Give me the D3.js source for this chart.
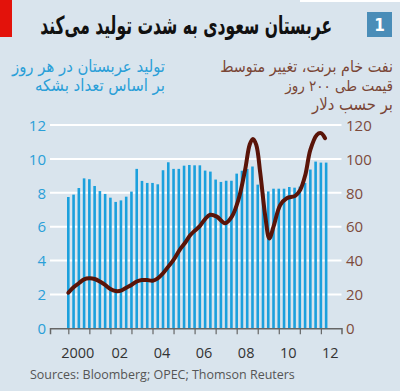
<!DOCTYPE html>
<html>
<head>
<meta charset="utf-8">
<script src="https://cdn.jsdelivr.net/npm/d3@7"></script>
<style>
  html, body { margin: 0; padding: 0; background: #d9e4ed; }
  svg { display: block; }
</style>
</head>
<body>
<svg id="chart" width="400" height="391"></svg>
<script>
// ---------- DATA ----------
const title = "عربستان سعودی به شدت تولید می‌کند";
const leftLabelLines = ["تولید عربستان در هر روز", "بر اساس تعداد بشکه"];
const rightLabelLines = ["نفت خام برنت، تغییر متوسط", "قیمت طی ۲۰۰ روز", "بر حسب دلار"];
const sourceText = "Sources: Bloomberg; OPEC; Thomson Reuters";
const xTickLabels = ["2000", "02", "04", "06", "08", "10", "12"];
const xTickLabelYears = [2000, 2002, 2004, 2006, 2008, 2010, 2012];
const leftTicks = [0, 2, 4, 6, 8, 10, 12];
const rightTicks = [0, 20, 40, 60, 80, 100, 120];

// Saudi production, million barrels/day, quarterly from 2000 Q1 to 2012 Q2
const productionStartYear = 2000;
const production = [
  7.75, 7.89, 8.28, 8.85,
  8.80, 8.40, 8.10, 7.93,
  7.71, 7.46, 7.55, 7.77,
  8.07, 9.41, 8.70, 8.58,
  8.58, 8.50, 9.33, 9.80,
  9.41, 9.41, 9.60, 9.64,
  9.62, 9.62, 9.31, 9.25,
  8.78, 8.64, 8.71, 8.71,
  9.13, 9.30, 9.40, 9.55,
  8.48, 8.00, 8.08, 8.24,
  8.24, 8.24, 8.34, 8.30,
  8.36, 8.58, 9.37, 9.84,
  9.78, 9.78
];

// Brent crude, 200-day moving average, $
const priceDates = [
  2000.00, 2000.25, 2000.50, 2000.75, 2001.00, 2001.25, 2001.50, 2001.75,
  2002.00, 2002.25, 2002.50, 2002.75, 2003.00, 2003.25, 2003.50, 2003.75,
  2004.00, 2004.25, 2004.50, 2004.75, 2005.00, 2005.30, 2005.55, 2005.80,
  2006.00, 2006.26, 2006.50, 2006.74, 2007.06, 2007.45, 2007.77, 2008.08,
  2008.40, 2008.62, 2008.77, 2008.93, 2009.12, 2009.36, 2009.55, 2009.75,
  2010.07, 2010.38, 2010.78, 2011.02, 2011.26, 2011.50, 2011.81, 2012.00,
  2012.20
];
const priceValues = [
  21.0, 24.2, 26.6, 28.9, 29.5, 29.1, 27.6, 25.6,
  23.2, 22.0, 22.2, 24.0, 25.6, 27.6, 28.5, 28.5,
  28.1, 29.5, 32.5, 36.4, 40.4, 46.5, 50.5, 55.1,
  57.5, 60.5, 64.5, 67.0, 65.9, 62.0, 65.9, 75.8,
  93.5, 108.5, 111.8, 108.3, 91.6, 66.0, 53.0, 60.0,
  72.8, 76.8, 78.2, 81.7, 90.5, 105.3, 114.2, 115.2,
  112.2
];

// ---------- CHART ----------
const svg = d3.select("#chart");
const bg = "#d9e4ed";
const blue = "#1ba0dd";
const brown = "#7d4b3c";
const lineColor = "#5a1408";
const faFont = "DejaVu Sans Condensed, DejaVu Sans, sans-serif";

svg.append("rect").attr("width", 400).attr("height", 391).attr("fill", bg);
svg.append("rect").attr("x", 300).attr("y", 0).attr("width", 100).attr("height", 2).attr("fill", "#ffffff");

// red tab
svg.append("rect").attr("x", 0).attr("y", 0).attr("width", 12).attr("height", 37).attr("fill", "#e3120b");

// number box
svg.append("rect").attr("x", 367).attr("y", 12).attr("width", 25).attr("height", 25).attr("fill", "#4a8db8");
svg.append("text").attr("x", 379.5).attr("y", 31).attr("text-anchor", "middle")
  .attr("font-family", "DejaVu Sans Condensed, DejaVu Sans, sans-serif").attr("font-weight", "bold").attr("font-size", 17)
  .attr("fill", "#ffffff").text("1");

function fit(node, target, maxSize) {
  const w = node.node().getComputedTextLength();
  const fs = parseFloat(node.attr("font-size"));
  if (w > 0) node.attr("font-size", Math.min(maxSize || 99, fs * target / w));
}

// title (right-aligned at x=332), taller glyphs squeezed horizontally to fit
const tg = svg.append("g").attr("transform", "translate(332,34)");
const t = tg.append("text").attr("x", 0).attr("y", 0)
  .attr("direction", "rtl").attr("text-anchor", "start")
  .attr("font-family", faFont).attr("font-weight", "bold").attr("font-size", 25)
  .attr("fill", "#111").text(title);
{
  const w = t.node().getComputedTextLength();
  if (w > 0) tg.attr("transform", `translate(332,34) scale(${292 / w},1)`);
}

// subtitle left (blue)
const leftWidths = [153, 130];
leftLabelLines.forEach((s, i) => {
  const n = svg.append("text").attr("x", 165).attr("y", 72 + i * 19)
    .attr("direction", "rtl").attr("text-anchor", "start")
    .attr("font-family", faFont).attr("font-size", 15)
    .attr("fill", "#2a9fd8").text(s);
  fit(n, leftWidths[i], 17);
});
// subtitle right (brown)
const rightWidths = [173, 108, 81];
rightLabelLines.forEach((s, i) => {
  const n = svg.append("text").attr("x", 393).attr("y", 72 + i * 19)
    .attr("direction", "rtl").attr("text-anchor", "start")
    .attr("font-family", faFont).attr("font-size", 15)
    .attr("fill", "#7a4636").text(s);
  fit(n, rightWidths[i], 17);
});

// scales
const x = d3.scaleLinear().domain([1999.13, 2012.98]).range([50, 341.5]);
const yL = d3.scaleLinear().domain([0, 12]).range([328.3, 125]);
const yR = d3.scaleLinear().domain([0, 120]).range([328.3, 125]);

// gridlines
svg.append("g").selectAll("line").data(leftTicks.filter(d => d > 0)).join("line")
  .attr("x1", 50).attr("x2", 341.5)
  .attr("y1", d => yL(d)).attr("y2", d => yL(d))
  .attr("stroke", "#ffffff").attr("stroke-width", 2);

// bars
const barData = production.map((v, i) => ({ t: productionStartYear + i / 4, v }));
svg.append("g").selectAll("rect").data(barData).join("rect")
  .attr("x", d => x(d.t) - 1.3)
  .attr("width", 2.6)
  .attr("y", d => yL(d.v))
  .attr("height", d => yL(0) - yL(d.v))
  .attr("fill", blue);

// x axis
const xAxis = d3.axisBottom(x)
  .tickValues(d3.range(2000, 2013))
  .tickSize(6)
  .tickFormat("");
const gx = svg.append("g").attr("transform", `translate(0,${yL(0)})`).call(xAxis);
gx.select(".domain").attr("stroke", "#666").attr("stroke-width", 1.5);
gx.selectAll(".tick line").attr("stroke", "#666").attr("stroke-width", 1.2);

// x labels (centered within each labelled year)
svg.append("g").selectAll("text").data(xTickLabelYears).join("text")
  .attr("x", (d, i) => x(d + 0.45))
  .attr("y", 358)
  .attr("text-anchor", "middle")
  .attr("font-family", "Open Sans, sans-serif").attr("font-size", 14.5)
  .attr("fill", "#333")
  .text((d, i) => xTickLabels[i]);

// left axis labels
const gl = svg.append("g").attr("transform", "translate(46,0)")
  .call(d3.axisLeft(yL).tickValues(leftTicks).tickSize(0).tickPadding(0));
gl.select(".domain").remove();
gl.selectAll("text").attr("font-family", "Open Sans, sans-serif").attr("font-size", 15)
  .attr("fill", "#2a9fd8").attr("dy", "0.35em");

// right axis labels
const gr = svg.append("g").attr("transform", "translate(346,0)")
  .call(d3.axisRight(yR).tickValues(rightTicks).tickSize(0).tickPadding(0));
gr.select(".domain").remove();
gr.selectAll("text").attr("font-family", "Open Sans, sans-serif").attr("font-size", 15)
  .attr("fill", brown).attr("dy", "0.35em");

// price line
const lineData = priceDates.map((d, i) => ({ t: d, v: priceValues[i] }));
svg.append("path").datum(lineData)
  .attr("fill", "none")
  .attr("stroke", lineColor)
  .attr("stroke-width", 4)
  .attr("stroke-linecap", "round")
  .attr("stroke-linejoin", "round")
  .attr("d", d3.line().x(d => x(d.t)).y(d => yR(d.v)).curve(d3.curveCatmullRom.alpha(0.5)));

// source
const src = svg.append("text").attr("x", 30).attr("y", 379)
  .attr("font-family", "Open Sans, sans-serif").attr("font-size", 13)
  .attr("fill", "#555").text(sourceText);
fit(src, 265);
</script>
</body>
</html>
